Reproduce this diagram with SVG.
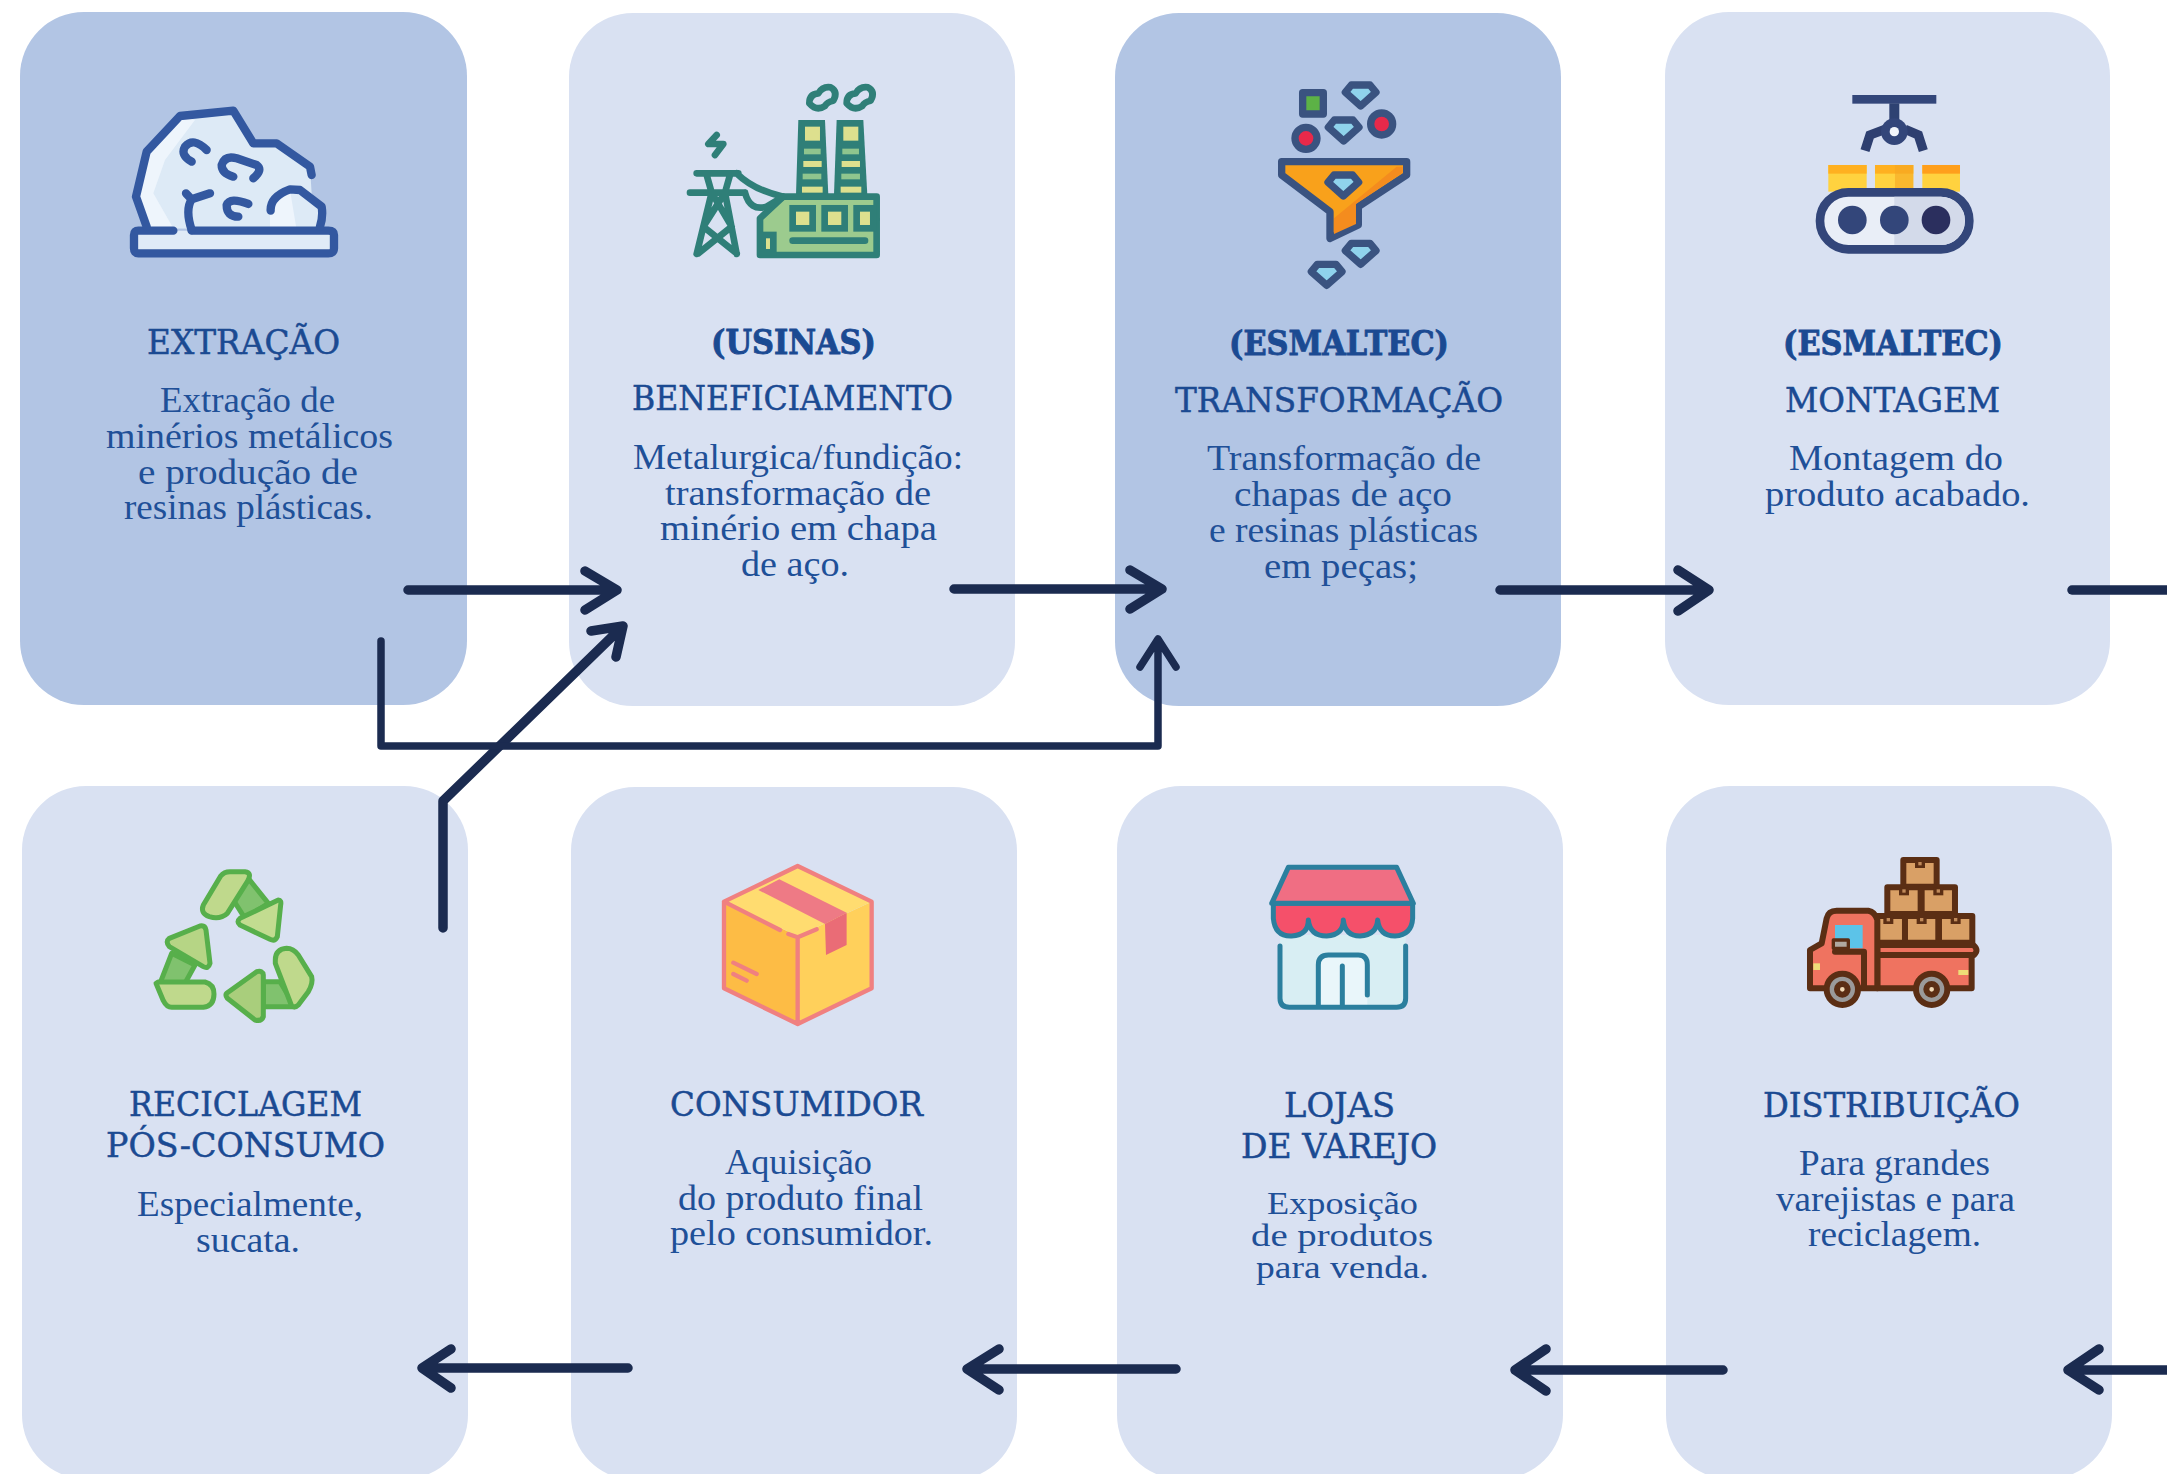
<svg xmlns="http://www.w3.org/2000/svg" xmlns:xlink="http://www.w3.org/1999/xlink" width="2167" height="1474" viewBox="0 0 2167 1474">
<style>
.card{fill:#D9E1F2}.dark{fill:#B2C5E4}
text{font-family:"DejaVu Serif","Liberation Serif",serif}
.t{font-size:34px;fill:#1B4A92;stroke:#1B4A92;stroke-width:.5}
.b{font-size:34px;fill:#1B4A92;font-weight:bold;stroke:#1B4A92;stroke-width:.9}
.p{font-family:"Liberation Serif",serif;font-size:35px;fill:#1F5098}
.s{font-size:31px}
.c{fill:none;stroke:#1B2B50;stroke-width:9.5;stroke-linecap:round;stroke-linejoin:round}
.rock{fill:none;stroke:#3358A0;stroke-width:25;stroke-linecap:round;stroke-linejoin:round}
.fac{fill:none;stroke:#2F7F78;stroke-width:20;stroke-linejoin:round;stroke-linecap:round}
.fun{stroke:#3A5380;stroke-width:22;stroke-linejoin:round}
.rec{stroke:#57AF4B;stroke-width:15;stroke-linejoin:round;stroke-linecap:round}
.box{stroke:#F08080;stroke-width:13;stroke-linejoin:round;stroke-linecap:round}
.sto{stroke:#2B7F9E;stroke-width:15;stroke-linejoin:round;stroke-linecap:round}
.tru{stroke:#5B2E14;stroke-width:18;stroke-linejoin:round;stroke-linecap:round}
</style>
<defs>
<path id="gem" d="M-28 -25H28L46 -3L0 38L-46 -3Z"/>
<g id="crate"><rect width="100" height="80" fill="#D9A066" class="tru"/><path d="M35 0V24H65V0Z" fill="#5B2E14"/><rect x="45" y="6" width="10" height="10" fill="#C08A5A"/></g>
</defs>
<rect width="2167" height="1474" fill="#fff"/>

<g id="node-extracao">
<rect class="dark" x="20" y="12" width="447" height="693" rx="64"/>
<g transform="translate(110 80) scale(.3333)">
<path d="M110 445L78 350L110 215L210 108L370 92L430 190L500 190L600 260L605 340L640 385L630 450Z" fill="#DDEAF6"/>
<path d="M110 445L78 350L110 215L210 108L255 120L165 240L130 340L190 445Z" fill="#EEF5FC"/>
<path d="M480 450V360L540 330L560 450Z" fill="#EEF5FC"/>
<rect x="72" y="452" width="600" height="68" rx="14" fill="#E0EBF7"/>
<path class="rock" d="M190 452H85Q72 452 72 465V505Q72 520 85 520H655Q672 520 672 505V465Q672 452 655 452H245"/>
<path class="rock" d="M110 440L78 350L110 215L210 108L370 92L430 190L500 190L600 260L605 285"/>
<path class="rock" d="M245 245Q210 225 225 200Q250 170 290 210M370 290Q335 280 335 255Q345 225 380 235L440 255Q460 270 430 295M228 340L245 358L300 340M245 358Q225 390 245 450M385 410Q350 410 350 375Q360 350 415 372M482 392Q480 350 540 328L570 330L635 380Q640 410 630 440"/>
</g>
<text class="t" x="147" y="354" textLength="193" lengthAdjust="spacingAndGlyphs">EXTRAÇÃO</text>
<text class="p" x="160" y="412" textLength="175" lengthAdjust="spacingAndGlyphs">Extração de</text>
<text class="p" x="106" y="448" textLength="287" lengthAdjust="spacingAndGlyphs">minérios metálicos</text>
<text class="p" x="138" y="484" textLength="220" lengthAdjust="spacingAndGlyphs">e produção de</text>
<text class="p" x="124" y="519" textLength="249" lengthAdjust="spacingAndGlyphs">resinas plásticas.</text>
</g>

<g id="node-beneficiamento">
<rect class="card" x="569" y="13" width="446" height="693" rx="64"/>
<g transform="translate(670 70) scale(.3333)">
<path d="M385 150H465L475 375H378Z" fill="#2F7F78"/><path d="M500 150H580L592 375H492Z" fill="#2F7F78"/>
<g fill="#DDE08E"><rect x="405" y="170" width="45" height="42"/><rect x="400" y="273" width="55" height="18"/><rect x="396" y="350" width="62" height="18"/><rect x="520" y="170" width="45" height="42"/><rect x="515" y="273" width="55" height="18"/><rect x="512" y="350" width="62" height="18"/></g>
<g fill="#8FC58E"><rect x="402" y="236" width="50" height="17"/><rect x="398" y="311" width="56" height="17"/><rect x="517" y="236" width="50" height="17"/><rect x="514" y="311" width="56" height="17"/></g>
<path class="fac" d="M418 100Q418 72 445 70Q458 48 482 52Q505 65 490 92Q472 95 465 108Q440 125 418 100Z" style="fill:#D9E1F2"/>
<path class="fac" d="M530 100Q530 72 557 70Q570 48 594 52Q617 65 602 92Q584 95 577 108Q552 125 530 100Z" style="fill:#D9E1F2"/>
<path class="fac" d="M270 445L340 380H620V555H270Z" style="fill:#9CCB8E"/>
<g fill="#DDE08E" stroke="#2F7F78" stroke-width="20"><rect x="368" y="415" width="60" height="60"/><rect x="464" y="415" width="60" height="60"/><rect x="560" y="415" width="50" height="60"/><rect x="278" y="495" width="32" height="52"/></g>
<path class="fac" d="M368 512H585"/>
<path class="fac" d="M80 310H205M60 368H225M110 315L125 368L80 552M180 315L165 368L200 552M125 368L185 470L85 550M165 368L100 470L200 550M200 310Q250 360 340 380M225 368Q240 425 290 410L340 380M140 195L115 222H160L135 255"/>
</g>
<text class="b" x="711" y="354" textLength="165" lengthAdjust="spacingAndGlyphs">(USINAS)</text>
<text class="t" x="632" y="410" textLength="321" lengthAdjust="spacingAndGlyphs">BENEFICIAMENTO</text>
<text class="p" x="633" y="469" textLength="330" lengthAdjust="spacingAndGlyphs">Metalurgica/fundição:</text>
<text class="p" x="665" y="505" textLength="266" lengthAdjust="spacingAndGlyphs">transformação de</text>
<text class="p" x="660" y="540" textLength="277" lengthAdjust="spacingAndGlyphs">minério em chapa</text>
<text class="p" x="741" y="576" textLength="108" lengthAdjust="spacingAndGlyphs">de aço.</text>
</g>

<g id="node-transformacao">
<rect class="dark" x="1115" y="13" width="446" height="693" rx="64"/>
<g transform="translate(1250 70) scale(.3333)">
<rect class="fun" x="158" y="68" width="62" height="64" fill="#5CB246"/>
<circle class="fun" cx="168" cy="205" r="33" fill="#E8294A"/><circle class="fun" cx="395" cy="162" r="33" fill="#E8294A"/>
<use class="fun" xlink:href="#gem" href="#gem" x="332" y="70" fill="#8FD3EC"/>
<use class="fun" xlink:href="#gem" href="#gem" x="281" y="175" fill="#8FD3EC"/>
<use class="fun" xlink:href="#gem" href="#gem" x="332" y="545" fill="#8FD3EC"/>
<use class="fun" xlink:href="#gem" href="#gem" x="230" y="608" fill="#8FD3EC"/>
<path class="fun" d="M95 275H470V315L325 410V465L240 505V425L95 315Z" fill="#F9A11B"/>
<path d="M440 290H458V308L318 402V462L252 492V445Z" fill="#F48C1E"/>
<use class="fun" xlink:href="#gem" href="#gem" x="280" y="340" fill="#8FD3EC"/>
</g>
<text class="b" x="1229" y="355" textLength="220" lengthAdjust="spacingAndGlyphs">(ESMALTEC)</text>
<text class="t" x="1175" y="412" textLength="328" lengthAdjust="spacingAndGlyphs">TRANSFORMAÇÃO</text>
<text class="p" x="1207" y="470" textLength="274" lengthAdjust="spacingAndGlyphs">Transformação de</text>
<text class="p" x="1234" y="506" textLength="218" lengthAdjust="spacingAndGlyphs">chapas de aço</text>
<text class="p" x="1209" y="542" textLength="269" lengthAdjust="spacingAndGlyphs">e resinas plásticas</text>
<text class="p" x="1264" y="578" textLength="154" lengthAdjust="spacingAndGlyphs">em peças;</text>
</g>

<g id="node-montagem">
<rect class="card" x="1665" y="12" width="445" height="693" rx="64"/>
<g transform="translate(1790 80) scale(.3333)">
<g fill="#FFD23F"><rect x="115" y="255" width="115" height="80"/><rect x="255" y="255" width="115" height="80"/><rect x="397" y="255" width="113" height="80"/></g>
<g fill="#FFB020"><rect x="115" y="255" width="115" height="26"/><rect x="255" y="255" width="115" height="26"/><rect x="397" y="255" width="113" height="26" fill="#FF9F1C"/></g>
<rect x="315" y="255" width="55" height="80" fill="#F5A623" opacity=".6"/>
<rect x="90" y="337" width="448" height="171" rx="85" fill="#E9EEF7" stroke="#33467A" stroke-width="26"/>
<path d="M313 350H452A72 72 0 0 1 452 495H313Z" fill="#D3DAEA"/>
<circle cx="187" cy="420" r="43" fill="#33467A"/><circle cx="313" cy="420" r="43" fill="#33467A"/><circle cx="438" cy="420" r="43" fill="#2B2F5E"/>
<rect x="187" y="45" width="252" height="26" fill="#33467A"/><rect x="298" y="70" width="30" height="52" fill="#2E4272"/>
<path d="M285 148L240 165L225 212M345 148L385 165L400 212" fill="none" stroke="#2E3F70" stroke-width="28"/>
<circle cx="313" cy="155" r="40" fill="#33467A"/><circle cx="313" cy="155" r="14" fill="#F2F5FB"/>
</g>
<text class="b" x="1783" y="355" textLength="220" lengthAdjust="spacingAndGlyphs">(ESMALTEC)</text>
<text class="t" x="1785" y="412" textLength="215" lengthAdjust="spacingAndGlyphs">MONTAGEM</text>
<text class="p" x="1789" y="470" textLength="214" lengthAdjust="spacingAndGlyphs">Montagem do</text>
<text class="p" x="1765" y="506" textLength="265" lengthAdjust="spacingAndGlyphs">produto acabado.</text>
</g>

<g id="node-reciclagem">
<rect class="card" x="22" y="786" width="446" height="693" rx="64"/>
<g transform="translate(130 850) scale(.3333)">
<path class="rec" d="M355 85L415 160L345 205L310 150Z" fill="#80C26E"/>
<path class="rec" d="M220 165L272 78Q282 65 300 65H345Q368 68 352 95L292 190Q270 210 238 200Q210 190 220 165Z" fill="#BFD98C"/>
<path class="rec" d="M445 150Q455 150 452 165L442 260Q435 275 420 268L330 225Q318 215 330 205Z" fill="#C2DC90"/>
<path class="rec" d="M125 310L195 345L165 400H90Z" fill="#80C26E"/>
<path class="rec" d="M210 228Q225 225 228 240L240 340Q235 358 220 350L118 290Q105 275 118 265Z" fill="#B6D585"/>
<path class="rec" d="M85 396H225Q252 403 252 432Q252 468 220 472H125Q110 472 100 452L78 400Z" fill="#BFD98C"/>
<path class="rec" d="M400 395H450L495 470H400Z" fill="#80C26E"/>
<path class="rec" d="M436 330Q436 298 470 295Q490 295 505 315L545 380Q550 400 535 425L505 465Q495 475 485 468L436 340Z" fill="#BFD98C"/>
<path class="rec" d="M290 430L380 365Q398 360 400 375V500Q395 515 375 510L292 445Q285 435 290 430Z" fill="#A9CE7C"/>
</g>
<text class="t" x="129" y="1116" textLength="233" lengthAdjust="spacingAndGlyphs">RECICLAGEM</text>
<text class="t" x="106" y="1157" textLength="279" lengthAdjust="spacingAndGlyphs">PÓS-CONSUMO</text>
<text class="p" x="137" y="1216" textLength="226" lengthAdjust="spacingAndGlyphs">Especialmente,</text>
<text class="p" x="196" y="1252" textLength="104" lengthAdjust="spacingAndGlyphs">sucata.</text>
</g>

<g id="node-consumidor">
<rect class="card" x="571" y="787" width="446" height="693" rx="64"/>
<g transform="translate(700 850) scale(.3333)">
<path d="M72 155L293 258V522L72 415Z" fill="#FDBC45"/>
<path d="M515 155L293 258V522L515 415Z" fill="#FFD05B"/>
<path d="M293 48L515 155L293 258L72 155Z" fill="#FFDC70"/>
<path d="M175 120L238 88L440 188L375 222Z" fill="#EE7A85"/>
<path d="M375 222L440 188V285L378 315Z" fill="#EA6C76"/>
<path class="box" fill="none" d="M72 155L293 48L515 155V415L293 522L72 415ZM72 155L240 240M265 252L293 262L350 238M293 262V522M100 338L170 372M100 372L140 392"/>
</g>
<text class="t" x="670" y="1116" textLength="253" lengthAdjust="spacingAndGlyphs">CONSUMIDOR</text>
<text class="p" x="725" y="1174" textLength="147" lengthAdjust="spacingAndGlyphs">Aquisição</text>
<text class="p" x="678" y="1210" textLength="245" lengthAdjust="spacingAndGlyphs">do produto final</text>
<text class="p" x="670" y="1245" textLength="263" lengthAdjust="spacingAndGlyphs">pelo consumidor.</text>
</g>

<g id="node-lojas">
<rect class="card" x="1117" y="786" width="446" height="693" rx="64"/>
<g transform="translate(1250 850) scale(.3333)">
<path d="M90 255H467V445Q467 472 440 472H118Q90 472 90 445Z" fill="#D8EEF3"/>
<path d="M205 465V345Q205 315 235 315H325Q352 315 352 345V465Z" fill="#E9F6FA"/>
<path class="sto" d="M70 160V205Q75 260 125 258Q175 255 175 210Q180 258 230 258Q280 255 280 210Q285 258 330 258Q380 255 383 210Q388 258 435 258Q485 255 488 205V160Z" fill="#F5506A"/>
<path class="sto" d="M115 52H440L490 160H110L65 160Z" fill="#F06E83"/>
<path class="sto" fill="none" d="M90 288V445Q90 472 118 472H440Q467 472 467 445V288M205 465V345Q205 315 235 315H325Q352 315 352 345V435M277 348V465"/>
</g>
<text class="t" x="1284" y="1117" textLength="111" lengthAdjust="spacingAndGlyphs">LOJAS</text>
<text class="t" x="1241" y="1158" textLength="196" lengthAdjust="spacingAndGlyphs">DE VAREJO</text>
<text class="p s" x="1267" y="1214" textLength="151" lengthAdjust="spacingAndGlyphs">Exposição</text>
<text class="p s" x="1251" y="1246" textLength="182" lengthAdjust="spacingAndGlyphs">de produtos</text>
<text class="p s" x="1256" y="1278" textLength="173" lengthAdjust="spacingAndGlyphs">para venda.</text>
</g>

<g id="node-distribuicao">
<rect class="card" x="1666" y="786" width="446" height="693" rx="64"/>
<g transform="translate(1790 840) scale(.3333)">
<use xlink:href="#crate" href="#crate" x="340" y="60"/>
<use xlink:href="#crate" href="#crate" x="292" y="142"/><use xlink:href="#crate" href="#crate" x="395" y="142"/>
<use xlink:href="#crate" href="#crate" x="245" y="228"/><use xlink:href="#crate" href="#crate" x="345" y="228"/><use xlink:href="#crate" href="#crate" x="447" y="228"/>
<path class="tru" d="M262 345H545V445H262Z" fill="#EF7360"/>
<path class="tru" d="M262 315H550Q568 330 552 345H262Z" fill="#EF7360"/>
<path class="tru" d="M60 445V330L95 310L110 235Q115 212 140 212H235Q255 215 262 240V445Z" fill="#EF7360"/>
<path d="M135 255H218V325H135Z" fill="#5CC3E8"/>
<path class="tru" d="M135 335H222V440" fill="none"/>
<path class="tru" d="M130 300H175V325H130Z" fill="#B0A9A0" style="stroke-width:10"/>
<rect x="70" y="370" width="20" height="20" fill="#EEDD77"/><rect x="505" y="390" width="30" height="15" fill="#EEDD77"/>
<circle class="tru" cx="157" cy="448" r="47" fill="#9A9A9A"/><circle class="tru" cx="157" cy="448" r="16" fill="#F1D9B5"/>
<circle class="tru" cx="425" cy="448" r="47" fill="#9A9A9A"/><circle class="tru" cx="425" cy="448" r="16" fill="#F1D9B5"/>
</g>
<text class="t" x="1763" y="1117" textLength="257" lengthAdjust="spacingAndGlyphs">DISTRIBUIÇÃO</text>
<text class="p" x="1799" y="1175" textLength="191" lengthAdjust="spacingAndGlyphs">Para grandes</text>
<text class="p" x="1776" y="1211" textLength="239" lengthAdjust="spacingAndGlyphs">varejistas e para</text>
<text class="p" x="1808" y="1246" textLength="173" lengthAdjust="spacingAndGlyphs">reciclagem.</text>
</g>

<g id="connectors">
<path class="c" d="M408 590H615M585 571L617 590L585 610"/>
<path class="c" d="M954 589H1161M1130 570L1162 589L1130 609"/>
<path class="c" d="M1500 590H1708M1678 570L1709 590L1678 611"/>
<path class="c" d="M2072 590H2167"/>
<path class="c" d="M2167 1370H2069M2099 1349L2068 1370L2099 1390"/>
<path class="c" d="M1723 1370H1516M1546 1349L1515 1370L1546 1391"/>
<path class="c" d="M1176 1369H968M999 1349L967 1369L999 1390"/>
<path class="c" d="M628 1368H424M451 1349L422 1368L451 1388"/>
<path class="c" d="M443 928V801L621 628M591 631L623 626L616 657"/>
<path class="c" style="stroke-width:7.5" d="M381 641V746H1158V642M1140 667L1158 639L1176 667"/>
</g>
</svg>
